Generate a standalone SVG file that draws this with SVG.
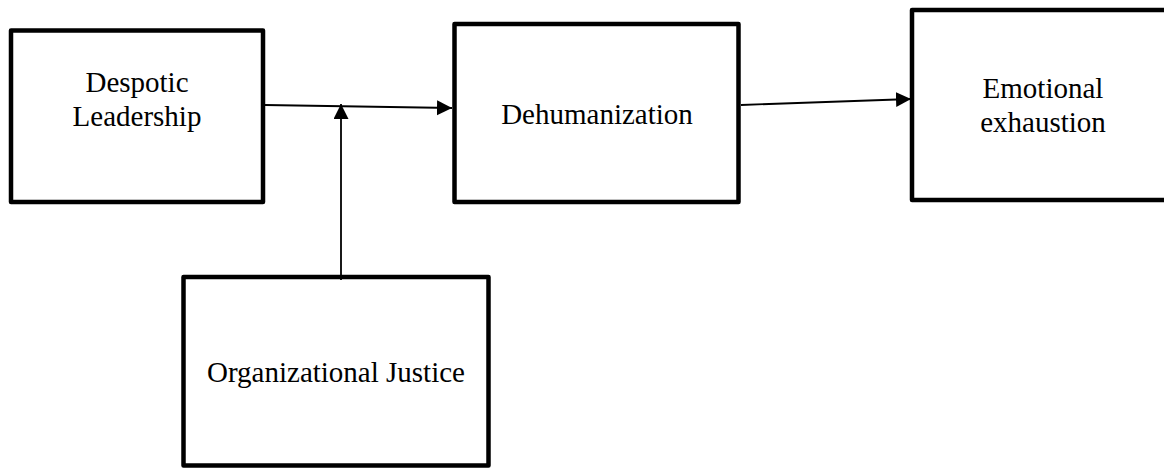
<svg xmlns="http://www.w3.org/2000/svg" width="1164" height="468" viewBox="0 0 1164 468">
<style>
.box{fill:#ffffff;stroke:#000000;stroke-width:4.5;stroke-linejoin:round}
.lbl{font-family:"Liberation Serif","Times New Roman",serif;font-size:29px;fill:#000000;text-anchor:middle}
.conn{fill:none;stroke:#000000;stroke-width:1.8}
</style>
<defs>
<marker id="ah" markerUnits="userSpaceOnUse" markerWidth="16" markerHeight="16" refX="15" refY="7.5" orient="auto" viewBox="0 0 16 16">
<path d="M0,0 L15,7.5 L0,15 z" fill="#000000"/>
</marker>
</defs>
<rect x="0" y="0" width="1164" height="468" fill="#ffffff"/>
<g id="despotic-leadership">
<rect class="box" x="11" y="30.5" width="252" height="171.5"/>
<text class="lbl" x="137" y="92">Despotic</text>
<text class="lbl" x="137" y="126">Leadership</text>
</g>
<g id="dehumanization">
<rect class="box" x="454.5" y="24" width="284" height="178"/>
<text class="lbl" x="597" y="124">Dehumanization</text>
</g>
<g id="emotional-exhaustion">
<rect class="box" x="912" y="10" width="262" height="190"/>
<text class="lbl" x="1043" y="98">Emotional</text>
<text class="lbl" x="1043" y="132">exhaustion</text>
</g>
<g id="organizational-justice">
<rect class="box" x="183.5" y="277" width="305" height="188.5"/>
<text class="lbl" x="336" y="382">Organizational Justice</text>
</g>
<g id="connectors">
<line class="conn" x1="265" y1="105" x2="452" y2="108" marker-end="url(#ah)"/>
<line class="conn" x1="341" y1="280" x2="341" y2="104" marker-end="url(#ah)"/>
<line class="conn" x1="741" y1="105" x2="911" y2="99" marker-end="url(#ah)"/>
</g>
</svg>
